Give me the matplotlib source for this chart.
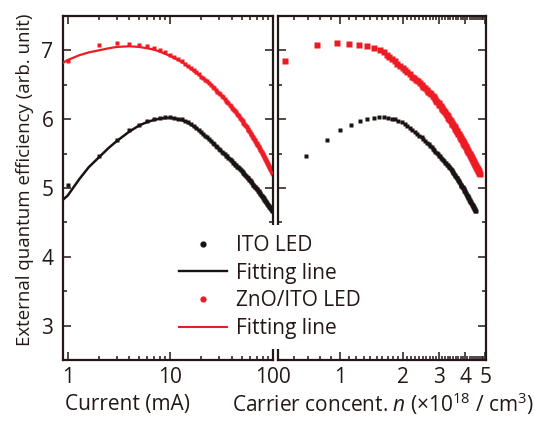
import numpy as np
import matplotlib
matplotlib.use('Agg')
import matplotlib.pyplot as plt
from matplotlib.ticker import FixedLocator, FixedFormatter, NullFormatter
from matplotlib.lines import Line2D

# ---------------- data ----------------
current = [1, 2, 3, 4, 5, 6, 7, 8, 9, 10, 11, 12, 13, 14, 15, 16, 17, 18, 19, 20,
           21, 22, 23, 24, 25, 26, 27, 28, 29, 30, 31, 32, 33, 34, 35, 36, 37, 38, 39, 40,
           41, 42, 43, 44, 45, 46, 47, 48, 49, 50, 51, 52, 53, 54, 55, 56, 57, 58, 59, 60,
           61, 62, 63, 64, 65, 66, 67, 68, 69, 70, 71, 72, 73, 74, 75, 76, 77, 78, 79, 80,
           81, 82, 83, 84, 85, 86, 87, 88, 89, 90, 91, 92, 93, 94, 95, 96, 97, 98, 99, 100]

ito_eqe = [5.05, 5.46, 5.70, 5.84, 5.92, 5.97, 6.00, 6.02, 6.03, 6.03,
           6.02, 6.01, 6.00, 5.98, 5.96, 5.93, 5.90, 5.87, 5.84, 5.81,
           5.79, 5.76, 5.74, 5.71, 5.69, 5.66, 5.64, 5.61, 5.59, 5.57,
           5.55, 5.53, 5.51, 5.49, 5.47, 5.46, 5.44, 5.42, 5.40, 5.39,
           5.37, 5.36, 5.34, 5.33, 5.31, 5.30, 5.29, 5.28, 5.26, 5.25,
           5.23, 5.22, 5.20, 5.19, 5.17, 5.16, 5.15, 5.14, 5.12, 5.11,
           5.10, 5.08, 5.07, 5.05, 5.04, 5.03, 5.02, 5.01, 5.00, 4.99,
           4.98, 4.96, 4.95, 4.94, 4.93, 4.92, 4.90, 4.89, 4.88, 4.87,
           4.86, 4.85, 4.83, 4.82, 4.81, 4.80, 4.79, 4.78, 4.77, 4.76,
           4.75, 4.74, 4.73, 4.72, 4.71, 4.70, 4.69, 4.68, 4.67, 4.66]

zno_eqe = [6.85, 7.08, 7.11, 7.10, 7.08, 7.06, 7.03, 7.00, 6.97, 6.93,
           6.90, 6.87, 6.84, 6.80, 6.77, 6.74, 6.71, 6.68, 6.65, 6.62,
           6.60, 6.57, 6.55, 6.52, 6.50, 6.47, 6.45, 6.43, 6.40, 6.38,
           6.36, 6.34, 6.32, 6.30, 6.27, 6.25, 6.23, 6.21, 6.19, 6.17,
           6.15, 6.13, 6.12, 6.10, 6.08, 6.06, 6.04, 6.02, 6.01, 5.99,
           5.97, 5.95, 5.93, 5.92, 5.90, 5.88, 5.86, 5.84, 5.83, 5.81,
           5.79, 5.78, 5.76, 5.74, 5.73, 5.71, 5.70, 5.68, 5.66, 5.65,
           5.63, 5.62, 5.60, 5.59, 5.57, 5.55, 5.54, 5.52, 5.51, 5.49,
           5.48, 5.46, 5.45, 5.43, 5.42, 5.41, 5.39, 5.38, 5.36, 5.35,
           5.34, 5.32, 5.31, 5.29, 5.28, 5.27, 5.25, 5.24, 5.22, 5.21]

# carrier concentration (x 1e18 cm^-3) of each point in the right panel
ito_n = [0.47, 0.686, 0.863, 1.00, 1.126, 1.248, 1.353, 1.457, 1.545, 1.627,
         1.70, 1.77, 1.84, 1.91, 1.98, 2.05, 2.11, 2.17, 2.23, 2.29,
         2.35, 2.41, 2.47, 2.52, 2.57, 2.62, 2.67, 2.72, 2.76, 2.80,
         2.84, 2.88, 2.92, 2.96, 3.00, 3.03, 3.07, 3.10, 3.14, 3.17,
         3.21, 3.24, 3.27, 3.30, 3.33, 3.36, 3.39, 3.41, 3.44, 3.46,
         3.49, 3.51, 3.54, 3.56, 3.59, 3.61, 3.64, 3.66, 3.69, 3.71,
         3.73, 3.75, 3.78, 3.80, 3.82, 3.84, 3.86, 3.89, 3.91, 3.93,
         3.95, 3.97, 3.99, 4.01, 4.03, 4.05, 4.07, 4.09, 4.11, 4.13,
         4.15, 4.17, 4.18, 4.20, 4.22, 4.24, 4.26, 4.28, 4.30, 4.32,
         4.34, 4.35, 4.37, 4.39, 4.41, 4.43, 4.45, 4.46, 4.48, 4.50]

zno_n = [0.544, 0.778, 0.964, 1.108, 1.238, 1.353, 1.462, 1.55, 1.62, 1.68,
         1.73, 1.78, 1.84, 1.89, 1.95, 2.00, 2.05, 2.10, 2.16, 2.22,
         2.27, 2.32, 2.37, 2.42, 2.47, 2.52, 2.57, 2.62, 2.66, 2.71,
         2.75, 2.79, 2.83, 2.87, 2.91, 2.94, 2.98, 3.01, 3.05, 3.08,
         3.11, 3.14, 3.17, 3.20, 3.23, 3.26, 3.29, 3.32, 3.35, 3.38,
         3.41, 3.44, 3.47, 3.50, 3.53, 3.56, 3.59, 3.62, 3.64, 3.67,
         3.70, 3.73, 3.76, 3.78, 3.81, 3.84, 3.86, 3.89, 3.91, 3.94,
         3.97, 3.99, 4.02, 4.04, 4.07, 4.10, 4.12, 4.15, 4.17, 4.20,
         4.23, 4.25, 4.28, 4.30, 4.33, 4.36, 4.38, 4.41, 4.43, 4.46,
         4.48, 4.51, 4.53, 4.56, 4.58, 4.61, 4.63, 4.65, 4.68, 4.70]

fit_current = [0.9, 1, 1.3, 1.6, 2, 2.5, 3, 4, 5, 6, 7, 8, 10, 12, 14, 16, 18, 20,
               25, 30, 35, 40, 45, 50, 60, 70, 80, 90, 100]
ito_fit = [4.83, 4.89, 5.13, 5.30, 5.44, 5.58, 5.68, 5.82, 5.91, 5.96, 5.99, 6.01, 6.02, 6.00,
           5.97, 5.92, 5.87, 5.81, 5.68, 5.57, 5.47, 5.39, 5.32, 5.25, 5.11, 4.99, 4.87, 4.76, 4.66]
zno_fit = [6.82, 6.86, 6.93, 6.97, 7.00, 7.03, 7.05, 7.06, 7.05, 7.03, 7.01, 6.98, 6.92, 6.86,
           6.80, 6.73, 6.67, 6.62, 6.50, 6.38, 6.27, 6.17, 6.08, 5.99, 5.81, 5.65, 5.49, 5.35, 5.21]

left_ticks = [1, 10, 100]
left_ticklabels = ['1', '10', '100']
right_ticks = [1, 2, 3, 4, 5]
right_ticklabels = ['1', '2', '3', '4', '5']
y_ticks = [3, 4, 5, 6, 7]
legend_labels = ['ITO LED', 'Fitting line', 'ZnO/ITO LED', 'Fitting line']

# ---------------- style ----------------
plt.rcParams['font.family'] = ['Open Sans', 'DejaVu Sans']
plt.rcParams['mathtext.fontset'] = 'custom'
plt.rcParams['mathtext.rm'] = 'Open Sans'
plt.rcParams['mathtext.it'] = 'Open Sans:italic'

FG = '#231815'
BLACK = '#1a1311'
RED = '#ed1c24'
FS = 15

W, H = 534, 423
fig = plt.figure(figsize=(W / 100, H / 100), dpi=100)


def rect(x0, y0, x1, y1):
    return [x0 / W, 1 - y1 / H, (x1 - x0) / W, (y1 - y0) / H]


ax1 = fig.add_axes(rect(63, 16, 273, 360))
ax2 = fig.add_axes(rect(278, 16, 486, 360))

# left panel: EQE vs current
ax1.plot(current, ito_eqe, 's', ms=3.0, color=BLACK, mec='none', zorder=2)
ax1.plot(fit_current, ito_fit, '-', lw=1.8, color=BLACK, zorder=3)
ax1.plot(current, zno_eqe, 's', ms=3.0, color=RED, mec='none', zorder=2)
ax1.plot(fit_current, zno_fit, '-', lw=1.6, color=RED, zorder=3)
ax1.set_xscale('log')
ax1.set_xlim(0.9, 101)

# right panel: EQE vs carrier concentration
ax2.plot(ito_n, ito_eqe, 's', ms=3.5, color=BLACK, mec='none')
ax2.plot(zno_n, zno_eqe, 's', ms=4.3, color=RED, mec='none')
ax2.set_xscale('log')
ax2.set_xlim(0.503, 5.04)

for ax in (ax1, ax2):
    ax.set_ylim(2.5, 7.5)
    ax.yaxis.set_major_locator(FixedLocator(y_ticks))
    ax.yaxis.set_minor_locator(FixedLocator(np.arange(2.5, 7.6, 0.5)))
    for s in ax.spines.values():
        s.set_linewidth(1.6)
        s.set_color(FG)
    ax.tick_params(which='both', direction='in', top=True, right=True,
                   color=FG, labelcolor=FG, labelsize=FS, width=1.1)
    ax.tick_params(which='major', length=5.5)
    ax.tick_params(which='minor', length=3.2)
    ax.tick_params(axis='x', pad=5)
    ax.tick_params(axis='y', pad=7)

ax1.xaxis.set_major_locator(FixedLocator(left_ticks))
ax1.xaxis.set_major_formatter(FixedFormatter(left_ticklabels))
ax1.xaxis.set_minor_locator(FixedLocator([k * d for d in (1, 10) for k in range(2, 10)]))
ax1.xaxis.set_minor_formatter(NullFormatter())

ax2.xaxis.set_major_locator(FixedLocator(right_ticks))
ax2.xaxis.set_major_formatter(FixedFormatter(right_ticklabels))
ax2.xaxis.set_minor_locator(FixedLocator(np.arange(0.6, 5.05, 0.1)))
ax2.xaxis.set_minor_formatter(NullFormatter())
ax2.tick_params(axis='y', labelleft=False)

# labels
fig.text(65 / W, 1 - 404 / H, 'Current (mA)', ha='left', va='center', fontsize=FS, color=FG)
fig.text(383 / W, 1 - 404 / H, r'Carrier concent. $\mathit{n}$ (×10$^{18}$ / cm$^{3}$)',
         ha='center', va='center', fontsize=FS, color=FG)
fig.text(25 / W, 1 - 180 / H, 'External quantum efficiency (arb. unit)', rotation=90,
         ha='center', va='center', fontsize=13.4, color=FG)

handles = [Line2D([], [], ls='none', marker='o', ms=4.5, color=BLACK, mec='none'),
           Line2D([], [], ls='-', lw=1.7, color=BLACK),
           Line2D([], [], ls='none', marker='o', ms=4.5, color=RED, mec='none'),
           Line2D([], [], ls='-', lw=1.5, color=RED)]
leg = fig.legend(handles, legend_labels, loc='center', bbox_to_anchor=(270 / W, 1 - 287 / H),
                 fontsize=FS, frameon=True, fancybox=False, facecolor='white', edgecolor='none',
                 framealpha=1, handlelength=2.3, handletextpad=0.45, labelspacing=0.32,
                 borderpad=0.5)
for t in leg.get_texts():
    t.set_color(FG)

fig.savefig('out.png', dpi=100)
